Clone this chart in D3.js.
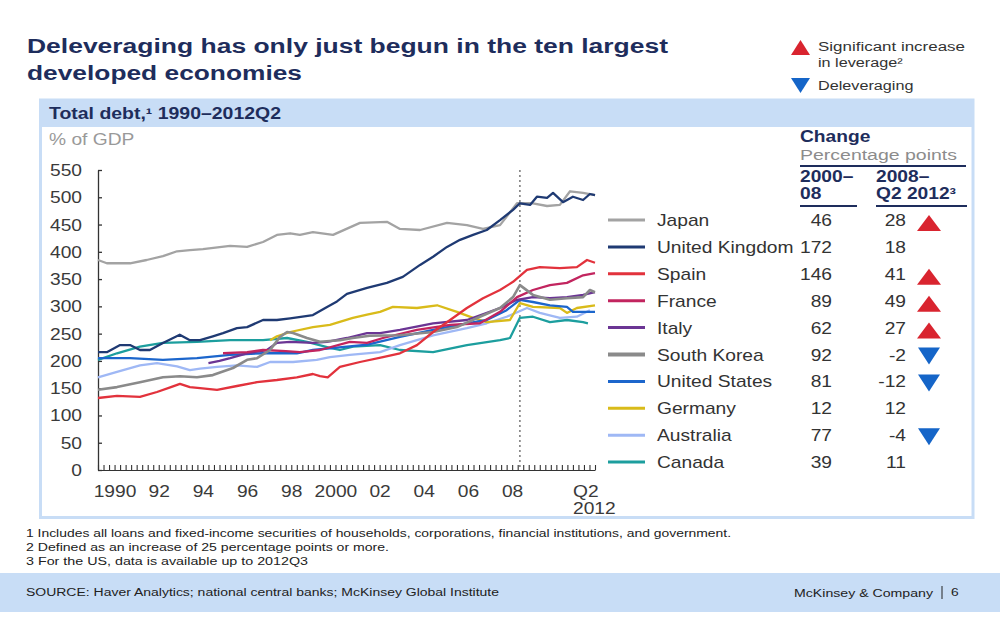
<!DOCTYPE html>
<html>
<head>
<meta charset="utf-8">
<script src="https://cdn.jsdelivr.net/npm/d3@7"></script>
<style>
  body { margin: 0; background: #fff; }
  svg { display: block; font-family: "Liberation Sans", Arial, sans-serif; }
</style>
</head>
<body>
<div id="chart"></div>
<script>
// Series: [year, total debt % of GDP]
const japan = [[1990,385],[1990.4,379],[1991.45,379],[1992.2,385],[1992.94,392],[1993.58,401],[1994.16,403],[1994.75,405],[1995.98,411],[1996.75,409],[1997.47,418],[1998.1,431],[1998.7,434],[1999.14,431],[1999.73,436],[2000.64,431],[2001.86,453],[2003.08,455],[2003.67,442],[2004.58,440],[2005.8,453],[2006.7,449],[2007.43,442],[2008.2,449],[2008.97,489],[2009.69,489],[2010.33,484],[2010.91,486],[2011.37,511],[2011.96,508],[2012.5,504]];
const unitedKingdom = [[1990,216],[1990.4,216],[1991,229],[1991.45,229],[1991.9,220],[1992.35,220],[1992.94,233],[1993.7,248],[1994.16,238],[1994.62,238],[1995.2,245],[1995.66,251],[1996.29,260],[1996.75,262],[1997.47,275],[1998.1,275],[1998.7,278],[1999.73,284],[2000.37,299],[2000.82,309],[2001.27,323],[2002.18,334],[2003.08,343],[2003.8,354],[2004.58,376],[2005.17,391],[2005.8,409],[2006.39,422],[2006.98,431],[2007.6,440],[2008.2,458],[2008.79,477],[2009.1,489],[2009.56,486],[2009.87,501],[2010.33,499],[2010.6,508],[2011.05,491],[2011.5,501],[2011.96,495],[2012.27,506],[2012.5,504]];
const spain = [[1990,132],[1990.86,136],[1991.9,134],[1992.67,143],[1993.3,152],[1993.71,158],[1994.16,152],[1994.62,150],[1995.39,147],[1996.29,154],[1997.2,161],[1998.1,165],[1999,170],[1999.73,176],[2000.05,172],[2000.4,170],[2000.95,189],[2001.86,198],[2002.9,207],[2003.67,214],[2004.44,229],[2005.17,253],[2005.94,275],[2006.7,297],[2007.43,315],[2008.2,330],[2008.79,345],[2009.42,367],[2010,372],[2010.91,370],[2011.68,372],[2012.14,385],[2012.5,380]];
const france = [[1995.66,214],[1996.75,216],[1997.47,220],[1998.5,218],[1999.14,216],[2000.05,220],[2001.4,235],[2002.18,233],[2002.9,242],[2004.44,257],[2005.94,266],[2007.29,269],[2008.2,290],[2008.97,317],[2009.69,330],[2010.46,339],[2011.23,343],[2011.96,357],[2012.5,361]];
const italy = [[1995,196],[1995.5,200],[1995.98,205],[1996.75,214],[1997.65,220],[1998.1,233],[1998.7,235],[1999.73,233],[2000.37,235],[2001.27,242],[2002.18,251],[2002.77,251],[2003.67,257],[2005.17,269],[2006.7,275],[2008.2,297],[2008.97,312],[2009.69,317],[2010.46,315],[2011.23,317],[2011.96,321],[2012.5,326]];
const southKorea = [[1990,147],[1990.86,152],[1991.9,161],[1992.94,170],[1993.71,172],[1994.48,170],[1995.2,174],[1996.11,187],[1996.75,202],[1997.2,205],[1997.79,220],[1998.24,244],[1998.56,253],[1998.83,251],[1999.46,242],[2000.05,235],[2000.95,238],[2001.54,242],[2002.3,246],[2003.67,247],[2005.17,253],[2006.25,262],[2007.29,281],[2008.2,297],[2008.79,317],[2009.1,339],[2009.69,321],[2010.46,312],[2011.23,315],[2011.96,317],[2012.27,330],[2012.5,326]];
const unitedStates = [[1990,205],[1991.45,205],[1992.94,202],[1994.48,205],[1995.98,211],[1997.47,214],[1999,214],[1999.73,220],[2001.27,226],[2002.2,230],[2003.67,244],[2005.17,257],[2006.7,269],[2007.6,275],[2008.5,293],[2009.1,312],[2009.69,308],[2010.46,302],[2011.23,299],[2011.5,290],[2012.5,290]];
const germany = [[1997.79,238],[1998.1,245],[1998.7,253],[1999.73,262],[2000.5,266],[2001.54,279],[2002.18,285],[2002.77,290],[2003.35,299],[2004.44,297],[2005.35,302],[2006.25,290],[2006.98,279],[2007.6,271],[2008.65,275],[2009.1,306],[2009.69,299],[2010.91,297],[2011.23,288],[2011.68,297],[2012.5,302]];
const australia = [[1990,170],[1990.86,180],[1991.9,192],[1992.67,196],[1993.58,190],[1994.16,183],[1994.62,186],[1995.39,189],[1996.29,192],[1997.2,189],[1997.79,198],[1998.83,198],[1999.9,202],[2000.5,207],[2001.4,211],[2002.77,216],[2003.67,229],[2005.17,247],[2006.7,260],[2007.6,269],[2008.5,281],[2009.42,297],[2010,288],[2010.91,279],[2011.68,281],[2012.27,293]];
const canada = [[1990,202],[1990.86,214],[1991.9,226],[1992.94,233],[1994.48,235],[1995.98,238],[1997.47,238],[1998.56,242],[1999.46,235],[2000.5,224],[2000.95,220],[2001.54,226],[2002.77,229],[2003.67,220],[2005.17,216],[2006.7,229],[2008.2,238],[2008.65,242],[2009.1,279],[2009.69,281],[2010.46,271],[2011.23,275],[2011.96,271],[2012.18,269]];

// Legend / table
const countries = ["Japan", "United Kingdom", "Spain", "France", "Italy", "South Korea", "United States", "Germany", "Australia", "Canada"];
const seriesData = [japan, unitedKingdom, spain, france, italy, southKorea, unitedStates, germany, australia, canada];
const colors = ["#a3a3a3", "#1f3a73", "#e2323c", "#c2255f", "#6b3594", "#8a8a8a", "#1c66cc", "#d9bb1a", "#9fb8f5", "#1c9e9e"];
const change2000to08 = [46, 172, 146, 89, 62, 92, 81, 12, 77, 39];
const change2008toQ2 = [28, 18, 41, 49, 27, -2, -12, 12, -4, 11];
const signals = ["up", null, "up", "up", "up", "down", "down", null, "down", null];

// Axes
const yTicks = [0, 50, 100, 150, 200, 250, 300, 350, 400, 450, 500, 550];
const xLabelYears = [1990, 1992, 1994, 1996, 1998, 2000, 2002, 2004, 2006, 2008];
const xLabels = ["1990", "92", "94", "96", "98", "2000", "02", "04", "06", "08"];
const quarters = d3.range(1990, 2012.5001, 0.25);
const markerYear = 2009.1;

const footnotes = [
  "1 Includes all loans and fixed-income securities of households, corporations, financial institutions, and government.",
  "2 Defined as an increase of 25 percentage points or more.",
  "3 For the US, data is available up to 2012Q3"
];

const width = 1000, height = 634;
const stretch = 1.2;   // the slide text is wider than plain Arial
const navy = "#1e2d5c", ink = "#333", grey = "#999", paleBlue = "#c8ddf6";

const svg = d3.select("#chart").append("svg")
    .attr("width", width)
    .attr("height", height);

function label(g, x, y, str, o = {}) {
  const k = o.sx || stretch;
  const t = g.append("text")
      .attr("transform", `translate(${x},${y}) scale(${k},1)`)
      .attr("text-anchor", o.anchor || "start")
      .attr("font-size", o.size || 16)
      .attr("font-weight", o.bold ? "bold" : "normal")
      .attr("fill", o.color || ink)
      .text(str);
  if (o.len) t.attr("textLength", o.len / k).attr("lengthAdjust", "spacingAndGlyphs");
  return t;
}

// Title
label(svg, 27, 53, "Deleveraging has only just begun in the ten largest", {size: 21, bold: true, color: navy, len: 641});
label(svg, 27, 80, "developed economies", {size: 21, bold: true, color: navy, len: 275});

// Top-right key
svg.append("path").attr("d", "M791,55L810,55L800.5,40Z").attr("fill", "#d9242f");
svg.append("path").attr("d", "M791,78L810,78L800.5,93Z").attr("fill", "#1565c8");
label(svg, 818, 51, "Significant increase", {size: 13.5, len: 147});
label(svg, 818, 67, "in leverage²", {size: 13.5});
label(svg, 818, 90, "Deleveraging", {size: 13.5});

// Panel
svg.append("rect").attr("x", 40.5).attr("y", 100).attr("width", 932.5).attr("height", 417.5)
    .attr("fill", "#fff").attr("stroke", paleBlue).attr("stroke-width", 3);
svg.append("rect").attr("x", 39).attr("y", 99).attr("width", 935).attr("height", 28).attr("fill", paleBlue);
label(svg, 49, 119, "Total debt,¹ 1990–2012Q2", {size: 16, bold: true, color: navy, len: 232});
label(svg, 49, 145, "% of GDP", {size: 16, color: grey});

// Scales
const x = d3.scaleLinear().domain([1990, 2012.5]).range([98, 595]);
const y = d3.scaleLinear().domain([0, 550]).range([470, 170]);

const plot = svg.append("g");

// y axis (ticks point into the plot)
plot.append("g")
    .attr("transform", "translate(98,0)")
    .call(d3.axisRight(y).tickValues(yTicks).tickSize(4).tickSizeOuter(0).tickFormat(""))
    .call(g => g.selectAll("line,path").attr("stroke", "#333").attr("stroke-width", 1.3));
yTicks.forEach(v => label(plot, 82, y(v) + 6, String(v), {anchor: "end", size: 16, color: "#3a3a3a"}));

// x axis with quarterly ticks
plot.append("g")
    .attr("transform", "translate(0,470)")
    .call(d3.axisTop(x).tickValues(quarters).tickSize(5).tickSizeOuter(0).tickFormat(""))
    .call(g => g.selectAll("line,path").attr("stroke", "#333").attr("stroke-width", 1.1));
xLabelYears.forEach((yr, i) => label(plot, x(yr + 0.77), 497, xLabels[i], {anchor: "middle", size: 16, color: "#3a3a3a"}));
label(plot, 573, 497, "Q2", {size: 16, color: "#3a3a3a"});
label(plot, 573, 514, "2012", {size: 16, color: "#3a3a3a"});

// 2008 marker
plot.append("line")
    .attr("x1", x(markerYear)).attr("x2", x(markerYear))
    .attr("y1", y(550)).attr("y2", y(0))
    .attr("stroke", "#777").attr("stroke-width", 1.5).attr("stroke-dasharray", "2,3");

// Lines
const line = d3.line().x(d => x(d[0])).y(d => y(d[1]));
const order = [9, 8, 7, 6, 4, 3, 5, 2, 0, 1];
plot.append("g").selectAll("path")
    .data(order)
    .join("path")
    .attr("d", i => line(seriesData[i]))
    .attr("fill", "none")
    .attr("stroke", i => colors[i])
    .attr("stroke-width", i => i === 5 ? 2.6 : 2.3)
    .attr("stroke-linejoin", "round");

// Table header
const tbl = svg.append("g");
label(tbl, 800, 142, "Change", {size: 16, bold: true, color: navy});
label(tbl, 800, 160, "Percentage points", {size: 15.5, color: "#8c8c8c", len: 157});
tbl.append("line").attr("x1", 800).attr("x2", 966).attr("y1", 166).attr("y2", 166).attr("stroke", navy).attr("stroke-width", 1.8);
label(tbl, 800, 182, "2000–", {size: 16, bold: true, color: navy});
label(tbl, 800, 199, "08", {size: 16, bold: true, color: navy});
label(tbl, 876, 182, "2008–", {size: 16, bold: true, color: navy});
label(tbl, 876, 199, "Q2 2012³", {size: 16, bold: true, color: navy});
tbl.append("line").attr("x1", 800).attr("x2", 857).attr("y1", 206).attr("y2", 206).attr("stroke", navy).attr("stroke-width", 1.8);
tbl.append("line").attr("x1", 876).attr("x2", 967).attr("y1", 206).attr("y2", 206).attr("stroke", navy).attr("stroke-width", 1.8);

// Table rows
const rowY = i => 220 + i * 26.9;
countries.forEach((c, i) => {
  const cy = rowY(i);
  tbl.append("line").attr("x1", 608).attr("x2", 645).attr("y1", cy).attr("y2", cy)
      .attr("stroke", colors[i]).attr("stroke-width", i === 5 ? 4 : 3);
  label(tbl, 657, cy + 6, c, {size: 16});
  label(tbl, 832, cy + 6, String(change2000to08[i]), {anchor: "end", size: 16});
  label(tbl, 906, cy + 6, String(change2008toQ2[i]), {anchor: "end", size: 16});
  if (signals[i] === "up") {
    tbl.append("path").attr("d", `M917,${cy + 11}L941,${cy + 11}L929,${cy - 5}Z`).attr("fill", "#d9242f");
  } else if (signals[i] === "down") {
    tbl.append("path").attr("d", `M918,${cy - 7}L940,${cy - 7}L929,${cy + 10}Z`).attr("fill", "#1565c8");
  }
});

// Footnotes
const fnLen = [705, 363, 282];
footnotes.forEach((f, i) => label(svg, 26, 537 + i * 14, f, {size: 11.5, color: "#222", len: fnLen[i]}));

// Footer band
svg.append("rect").attr("x", 0).attr("y", 573).attr("width", width).attr("height", 39).attr("fill", paleBlue);
label(svg, 26, 596, "SOURCE: Haver Analytics; national central banks; McKinsey Global Institute", {size: 11.5, color: "#222", len: 473});
label(svg, 794, 597, "McKinsey & Company", {size: 11.5, color: "#222", len: 139});
svg.append("line").attr("x1", 942).attr("x2", 942).attr("y1", 586).attr("y2", 599).attr("stroke", "#222").attr("stroke-width", 1);
label(svg, 951, 596, "6", {size: 11.5, color: "#222"});
</script>
</body>
</html>
